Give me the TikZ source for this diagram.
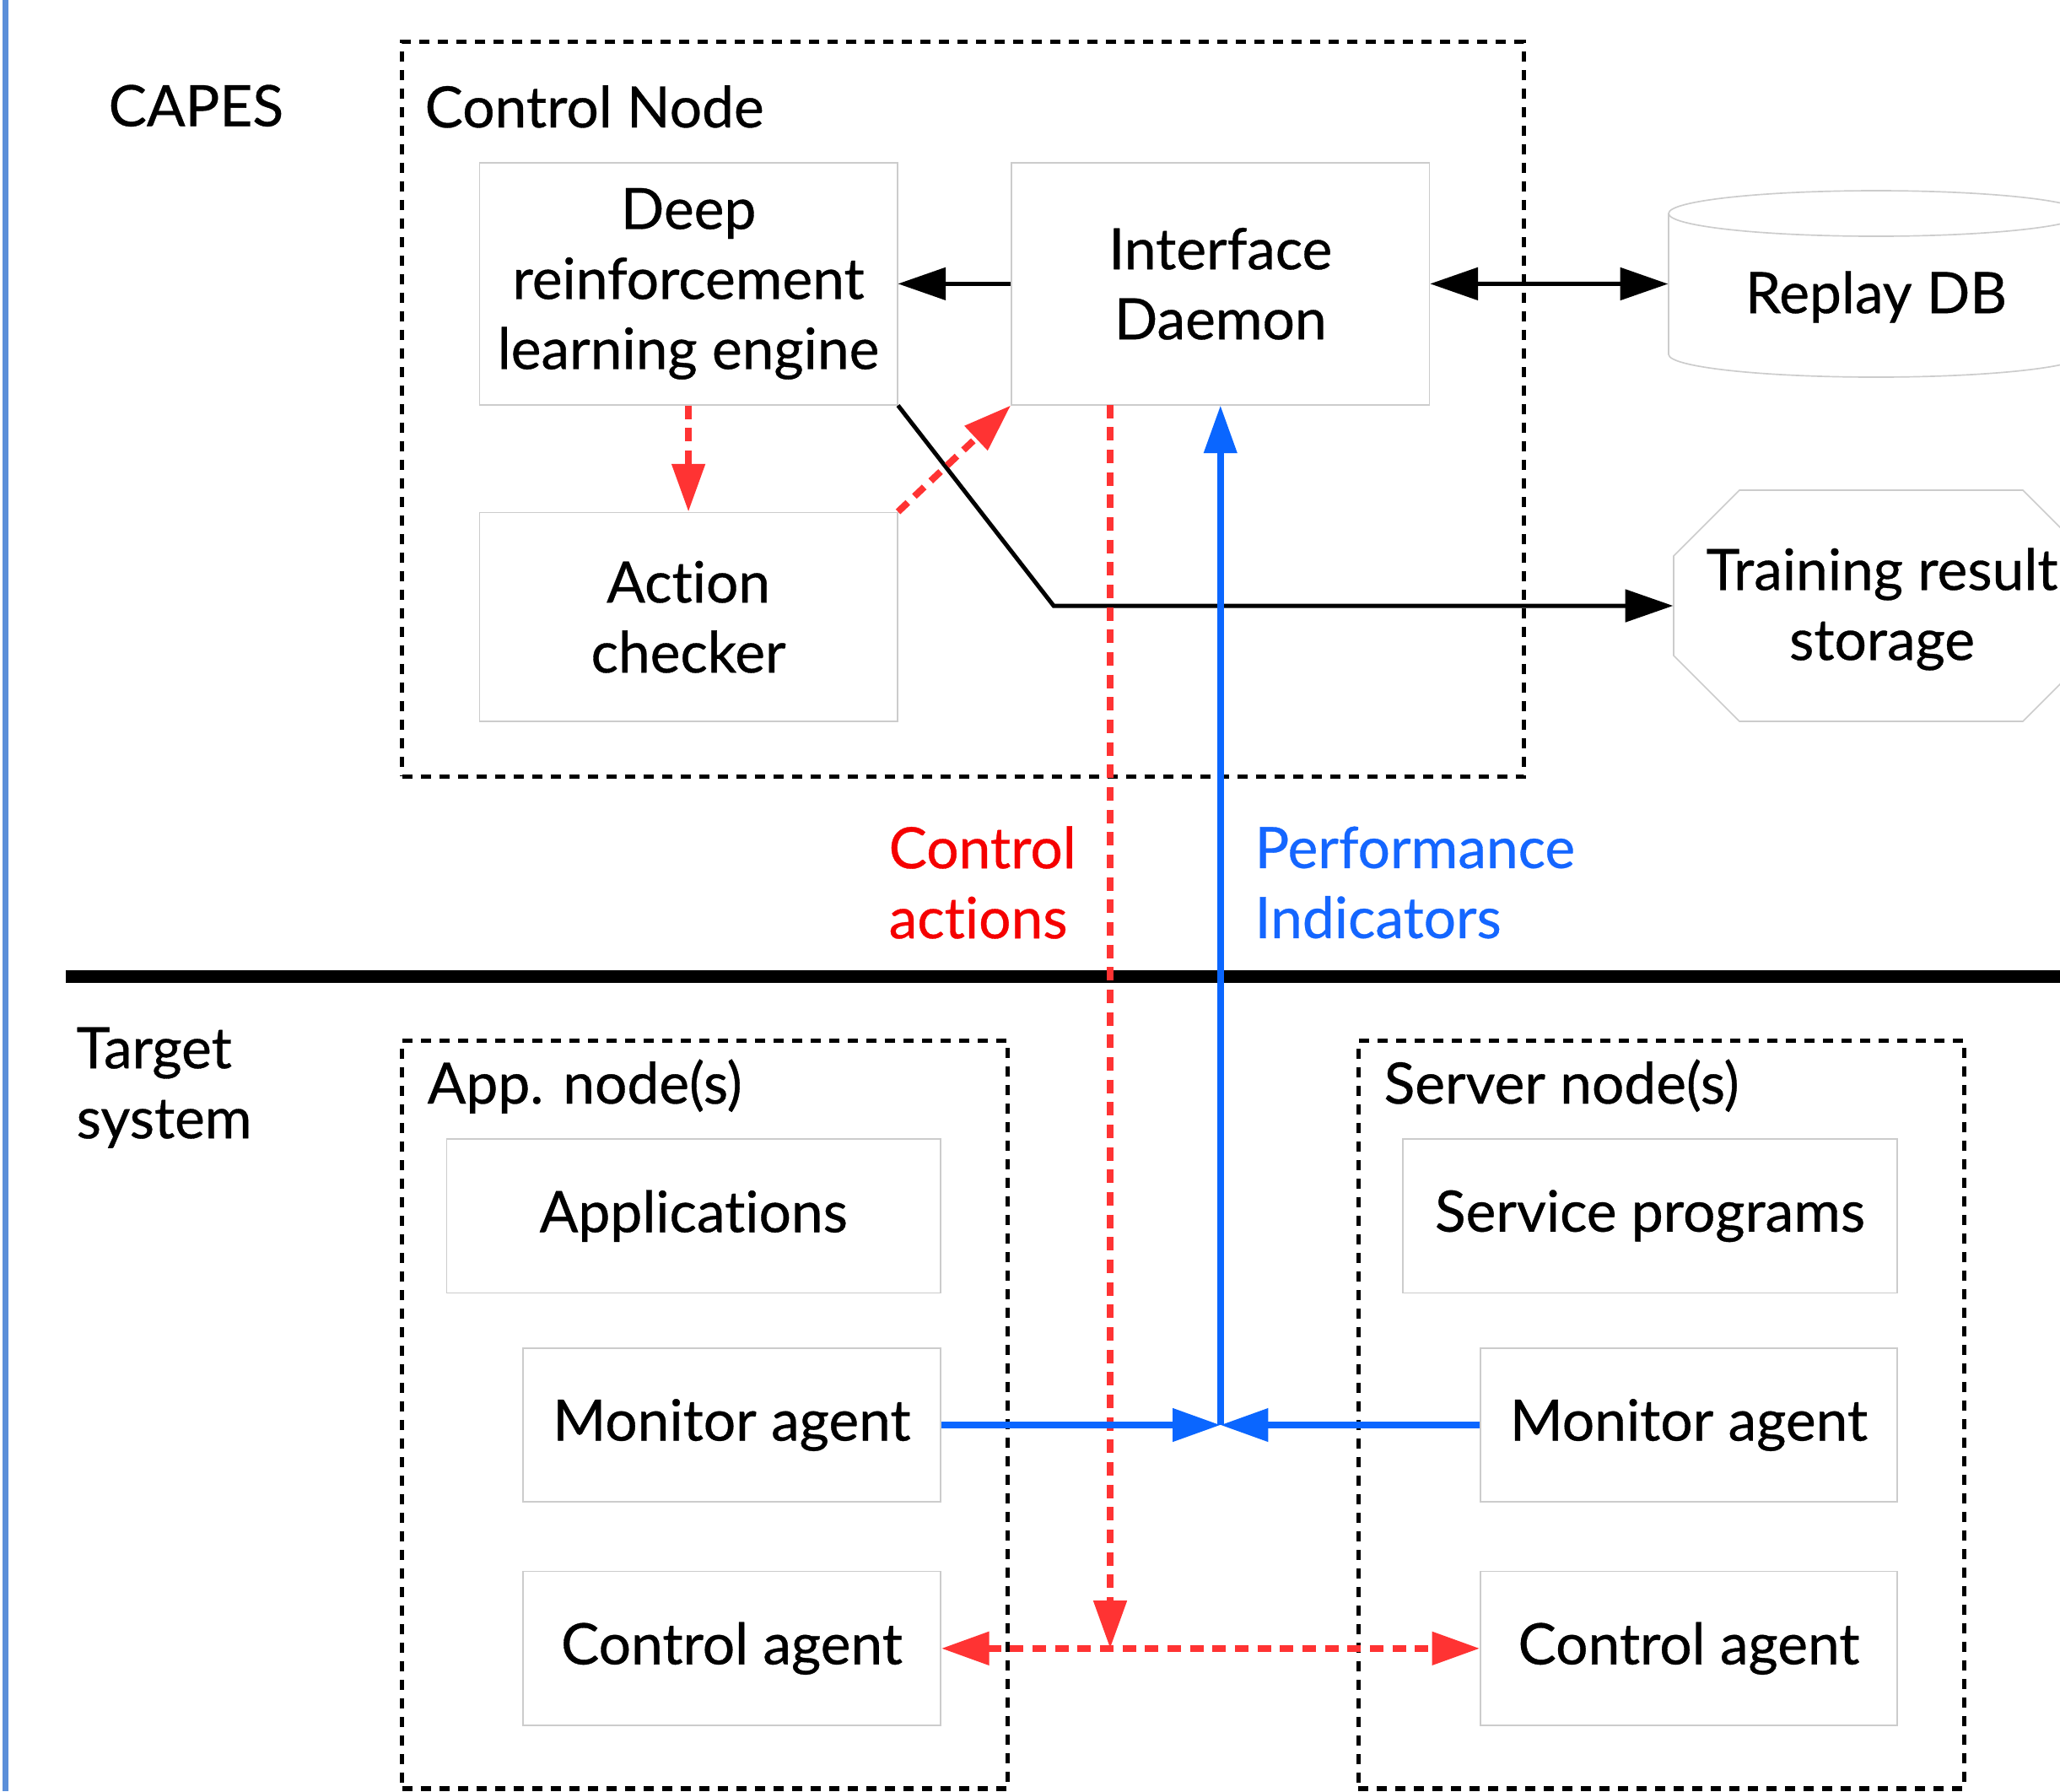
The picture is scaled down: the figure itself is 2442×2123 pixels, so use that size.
\documentclass[tikz,border=0pt]{standalone}
\usepackage{fontspec}
\setmainfont{Lato}[FakeBold=0.5,Ligatures=CommonOff]
\usetikzlibrary{arrows.meta,fit}
\definecolor{rline}{HTML}{FF3333}
\definecolor{rtext}{HTML}{F50000}
\definecolor{bline}{HTML}{0A66FF}
\definecolor{btext}{HTML}{1466FF}
\definecolor{boxgray}{HTML}{CCCCCC}
\definecolor{barblue}{HTML}{5B8FD9}
\begin{document}
\begin{tikzpicture}[x=0.3pt,y=-0.3pt,
  txt/.style={font=\fontsize{20.3}{24.9}\selectfont},
  box/.style 2 args={draw=boxgray,line width=0.5pt,inner sep=0pt,align=center,txt,
     minimum width=#1*0.3pt,minimum height=#2*0.3pt},
  grp/.style={draw=black,line width=1.6pt,dash pattern=on 3.6pt off 3pt},
  blk/.style={draw=black,line width=1.5pt,-{Triangle[length=17pt,width=11.4pt]}},
  red/.style={draw=rline,line width=2.4pt,dash pattern=on 4.8pt off 3.2pt,-{Triangle[length=17pt,width=11.4pt]}},
  blu/.style={draw=bline,line width=2.3pt,-{Triangle[length=17pt,width=11.4pt]}},
  lab/.style={txt,inner sep=0pt,anchor=base west}
]
\useasboundingbox (0,0) rectangle (2442,2123);
\clip (0,0) rectangle (2442,2123);
\fill[white] (0,0) rectangle (2442,2123);
\fill[barblue] (3,0) rectangle (10,2123);

% group boxes
\node[grp,fit={(476.5,49.8) (1806.6,920.4)},inner sep=0pt] (cn) {};
\node[grp,fit={(476.5,1233.5) (1194.5,2120)},inner sep=0pt] (an) {};
\node[grp,fit={(1610.4,1233.5) (2328.3,2120)},inner sep=0pt] (sn) {};

% labels
\node[lab] (capes) at (128,149.5) {CAPES};
\node[lab] (cnl) at (503,151) {Control Node};
\node[lab] (anl) at (506,1308) {App. node(s)};
\node[lab] (snl) at (1640,1308) {Server node(s)};
\node[txt,inner sep=0pt,align=left,anchor=north west] (tgt) at (90,1217) {Target\\system};
\node[txt,inner sep=0pt,align=left,anchor=west,text=rtext] (cal) at (1053,1046) {Control\\ac\mbox{t}ions};
\node[txt,inner sep=0pt,align=left,anchor=west,text=btext] (pil) at (1487,1046) {Performance\\Indicators};

% divider
\draw[line width=4.5pt] (78,1157) -- (2442,1157);

% control node contents
\node[box={495.2}{286.7}] (drl) at (816.1,336.35) {Deep\\reinforcement\\learning engine};
\node[box={495.5}{286.7}] (id) at (1446.75,336.35) {Interface\\Daemon};
\node[box={495.2}{247.6}] (ac) at (816.1,731.2) {Ac\mbox{t}ion\\checker};

% replay DB cylinder
\draw[boxgray,line width=0.5pt] (2224,253) ellipse [x radius=246, y radius=27];
\draw[boxgray,line width=0.5pt] (1978,253) -- (1978,420) arc[start angle=180,end angle=0,x radius=246,y radius=27] -- (2470,253);
\node[inner sep=0pt,fit={(1978,226) (2470,447)}] (rdb) {};
\node[txt] (rdbt) at (2224,352) {Replay DB};

% training result storage octagon
\draw[boxgray,line width=0.5pt] (2062,581) -- (1984,659) -- (1984,777) -- (2062,855) -- (2398,855) -- (2476,777) -- (2476,659) -- (2398,581) -- cycle;
\node[inner sep=0pt,fit={(1984,581) (2476,855)}] (trs) {};
\node[txt,align=center] (trst) at (2231,722) {Training result\\storage};

% app nodes
\node[box={585.5}{182.5}] (apps) at (822.25,1441.25) {Applications};
\node[box={495}{182}] (mal) at (867.5,1689) {Monitor agent};
\node[box={495}{182.4}] (cal2) at (867.5,1953.8) {Control agent};

% server nodes
\node[box={586}{182.5}] (svc) at (1956,1441.25) {Service programs};
\node[box={494}{182}] (mar) at (2002,1689) {Monitor agent};
\node[box={494}{182.4}] (car) at (2002,1953.8) {Control agent};

% coordinates
\coordinate (bend) at (1249,718);
\coordinate (caTop) at (1316,479.7);
\coordinate (caBot) at (caTop |- cal2.east);
\coordinate (jn) at (id.south |- mal.east);

% black connectors
\draw[blk] (id.west) -- (drl.east);
\draw[blk,{Triangle[length=17pt,width=11.4pt]}-{Triangle[length=17pt,width=11.4pt]}] (id.east) -- (rdb.west);
\draw[blk] (drl.south east) -- (bend) -- (trs.west);

% red connectors
\draw[red] (drl.south) -- (ac.north);
\draw[red] (ac.north east) -- (id.south west);
\draw[red] (caTop) -- (caBot);
\draw[red,{Triangle[length=17pt,width=11.4pt]}-{Triangle[length=17pt,width=11.4pt]}] (cal2.east) -- (car.west);

% blue connectors
\draw[blu] (mal.east) -- (jn);
\draw[blu] (mar.west) -- (jn);
\draw[blu] (jn) -- (id.south);
\end{tikzpicture}
\end{document}
